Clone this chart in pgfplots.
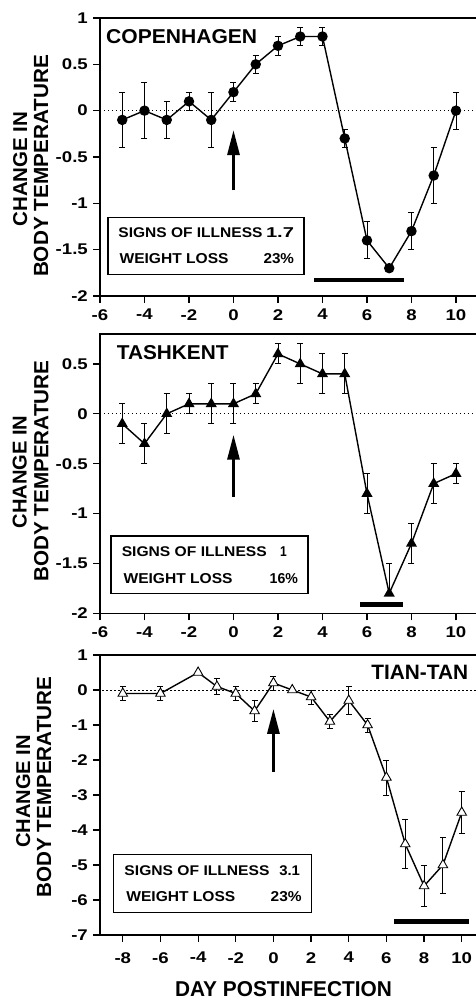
\documentclass[border=0pt]{standalone}
\usepackage{pgfplots}
\pgfplotsset{compat=1.18}
\usepackage{graphicx}
\usepackage{fontspec}
\setmainfont{Liberation Sans}
\newfontfamily\tickfont{Liberation Sans Bold}[FakeStretch=1.2]
\newfontfamily\plainfont{Liberation Sans Bold}
\usetikzlibrary{arrows.meta}
% text scaled to the measured width and cap height of the reference
\newcommand{\fit}[3]{\resizebox{#1pt}{#2pt}{\plainfont\fontsize{20}{20}\selectfont #3}}

\tikzset{txt/.style={inner sep=0pt}}
\pgfplotsset{
  panel/.style={
    scale only axis, width=380pt,
    axis line style={line width=1.4pt},
    tick align=outside, xtick pos=left, ytick pos=left,
    major tick length=7pt,
    every tick/.style={line width=1.2pt, black},
    tick label style={font=\tickfont\fontsize{15.5}{15.5}\selectfont},
    yticklabel style={inner sep=2pt, xshift=-3pt},
    xticklabel style={inner sep=2pt, yshift=-4pt},
    /pgf/number format/assume math mode=true,
  },
  series/.style={black, line width=1.4pt,
    error bars/y dir=both, error bars/y explicit,
    error bars/error bar style={line width=0.9pt, solid},
    error bars/error mark options={rotate=90, mark size=3pt, line width=1pt, black, solid}},
  zeroline/.style={black, line width=0.9pt, dash pattern=on 1.2pt off 2.8pt},
  blackbar/.style={black, line width=4.5pt},
  upArrow/.style={black, line width=3pt, -{Triangle[width=12pt,length=25pt]}},
}

\begin{document}
\begin{tikzpicture}
\useasboundingbox (0,0) rectangle (476pt,1001pt);

% ---------------- Panel 1: Copenhagen ----------------
\begin{axis}[panel, at={(100pt,705pt)}, anchor=south west, height=278pt,
  xmin=-6, xmax=11.08, ymin=-2, ymax=1,
  xtick={-6,-4,-2,0,2,4,6,8,10},
  ytick={-2,-1.5,-1,-0.5,0,0.5,1}]
\addplot[zeroline] coordinates {(-6,0) (11.1,0)};
\addplot[blackbar] coordinates {(3.62,-1.83) (7.66,-1.83)};
\addplot[upArrow] coordinates {(0,-0.86) (0,-0.21)};
\addplot[series, mark=*, mark size=4.5pt, mark options={solid, fill=black}] coordinates {
(-5,-0.1) +- (0,0.3)
(-4,0) +- (0,0.3)
(-3,-0.1) +- (0,0.2)
(-2,0.1) +- (0,0.1)
(-1,-0.1) +- (0,0.3)
(0,0.2) +- (0,0.1)
(1,0.5) +- (0,0.1)
(2,0.7) +- (0,0.1)
(3,0.8) +- (0,0.1)
(4,0.8) +- (0,0.1)
(5,-0.3) +- (0,0.1)
(6,-1.4) +- (0,0.2)
(7,-1.7) +- (0,0.03)
(8,-1.3) +- (0,0.2)
(9,-0.7) +- (0,0.3)
(10,0) +- (0,0.2)
};
\node[txt, anchor=base west] at (axis cs:-5.73,0.727) {\fit{151}{14}{COPENHAGEN}};
\draw[line width=1.2pt] (axis cs:-5.64,-1.155) rectangle (axis cs:3.17,-1.766);
\node[txt, anchor=base west] at (axis cs:-5.18,-1.366) {\fit{144}{9.8}{SIGNS OF ILLNESS}};
\node[txt, anchor=base east] at (axis cs:2.73,-1.366) {\fit{28}{9.8}{1.7}};
\node[txt, anchor=base west] at (axis cs:-5.13,-1.646) {\fit{109}{10}{WEIGHT LOSS}};
\node[txt, anchor=base east] at (axis cs:2.73,-1.646) {\fit{30.5}{10}{23\%}};
\end{axis}

% ---------------- Panel 2: Tashkent ----------------
\begin{axis}[panel, at={(100pt,387.7pt)}, anchor=south west, height=279.3pt,
  xmin=-6, xmax=11.08, ymin=-2, ymax=0.8,
  xtick={-6,-4,-2,0,2,4,6,8,10},
  ytick={-2,-1.5,-1,-0.5,0,0.5}]
\addplot[zeroline] coordinates {(-6,0) (11.1,0)};
\addplot[blackbar] coordinates {(5.69,-1.91) (7.62,-1.91)};
\addplot[upArrow] coordinates {(0,-0.83) (0,-0.21)};
\addplot[series, mark=triangle*, mark size=5pt, mark options={solid, fill=black}] coordinates {
(-5,-0.1) +- (0,0.2)
(-4,-0.3) +- (0,0.2)
(-3,0) +- (0,0.2)
(-2,0.1) +- (0,0.1)
(-1,0.1) +- (0,0.2)
(0,0.1) +- (0,0.2)
(1,0.2) +- (0,0.1)
(2,0.6) +- (0,0.1)
(3,0.5) +- (0,0.2)
(4,0.4) +- (0,0.2)
(5,0.4) +- (0,0.2)
(6,-0.8) +- (0,0.2)
(7,-1.8) += (0,0.3) -= (0,0)
(8,-1.3) +- (0,0.2)
(9,-0.7) +- (0,0.2)
(10,-0.6) +- (0,0.1)
};
\node[txt, anchor=base west] at (axis cs:-5.25,0.548) {\fit{111.7}{14}{TASHKENT}};
\draw[line width=1.2pt] (axis cs:-5.51,-1.226) rectangle (axis cs:3.35,-1.80);
\node[txt, anchor=base west] at (axis cs:-5.03,-1.433) {\fit{145}{9.8}{SIGNS OF ILLNESS}};
\node[txt, anchor=base west] at (axis cs:2.09,-1.433) {\fit{6.7}{9.8}{1}};
\node[txt, anchor=base west] at (axis cs:-4.95,-1.70) {\fit{109}{10}{WEIGHT LOSS}};
\node[txt, anchor=base east] at (axis cs:2.91,-1.70) {\fit{28.3}{10}{16\%}};
\end{axis}

% ---------------- Panel 3: Tian-Tan ----------------
\begin{axis}[panel, at={(100pt,66pt)}, anchor=south west, height=280pt,
  xmin=-9.21, xmax=10.97, ymin=-7, ymax=1,
  xtick={-8,-6,-4,-2,0,2,4,6,8,10},
  ytick={-7,-6,-5,-4,-3,-2,-1,0,1},
  xticklabel style={yshift=-4pt}]
\addplot[zeroline] coordinates {(-9.3,0) (11.1,0)};
\addplot[blackbar] coordinates {(6.42,-6.62) (10.41,-6.62)};
\addplot[upArrow] coordinates {(0,-2.33) (0,-0.54)};
\addplot[series, mark=triangle*, mark size=5.5pt, mark options={solid, fill=white, line width=0.9pt}] coordinates {
(-8,-0.1) +- (0,0.2)
(-6,-0.1) +- (0,0.2)
(-4,0.5) +- (0,0)
(-3,0.1) +- (0,0.22)
(-2,-0.1) +- (0,0.2)
(-1,-0.6) +- (0,0.3)
(0,0.2) +- (0,0.2)
(1,0) +- (0,0)
(2,-0.2) +- (0,0.2)
(3,-0.9) +- (0,0.2)
(4,-0.3) +- (0,0.4)
(5,-1.0) +- (0,0.2)
(6,-2.5) +- (0,0.5)
(7,-4.4) +- (0,0.7)
(8,-5.6) +- (0,0.6)
(9,-5.0) +- (0,0.8)
(10,-3.5) +- (0,0.6)
};
\node[txt, anchor=base east] at (axis cs:10.35,0.306) {\fit{96.7}{14.3}{TIAN-TAN}};
\draw[line width=1.2pt] (axis cs:-8.5,-4.69) rectangle (axis cs:2.04,-6.36);
\node[txt, anchor=base west] at (axis cs:-7.92,-5.29) {\fit{145}{9.8}{SIGNS OF ILLNESS}};
\node[txt, anchor=base east] at (axis cs:1.42,-5.29) {\fit{20.7}{9.8}{3.1}};
\node[txt, anchor=base west] at (axis cs:-7.82,-6.05) {\fit{109}{10}{WEIGHT LOSS}};
\node[txt, anchor=base east] at (axis cs:1.51,-6.05) {\fit{31}{10}{23\%}};
\end{axis}

% ---------------- Axis labels ----------------
\begin{scope}[every node/.style={inner sep=0pt, rotate=90, anchor=base}]
\node at (27pt,832pt) {\fit{115}{14}{CHANGE IN}};
\node at (48pt,835pt) {\fit{222}{14.3}{BODY TEMPERATURE}};
\node at (26.7pt,529pt) {\fit{113}{14}{CHANGE IN}};
\node at (48.3pt,530pt) {\fit{221}{14.3}{BODY TEMPERATURE}};
\node at (30pt,209.5pt) {\fit{113}{14}{CHANGE IN}};
\node at (51pt,214pt) {\fit{221}{14.3}{BODY TEMPERATURE}};
\end{scope}
\node[inner sep=0pt, anchor=base] at (283.5pt,4.3pt) {\fit{217}{15}{DAY POSTINFECTION}};
\end{tikzpicture}
\end{document}
